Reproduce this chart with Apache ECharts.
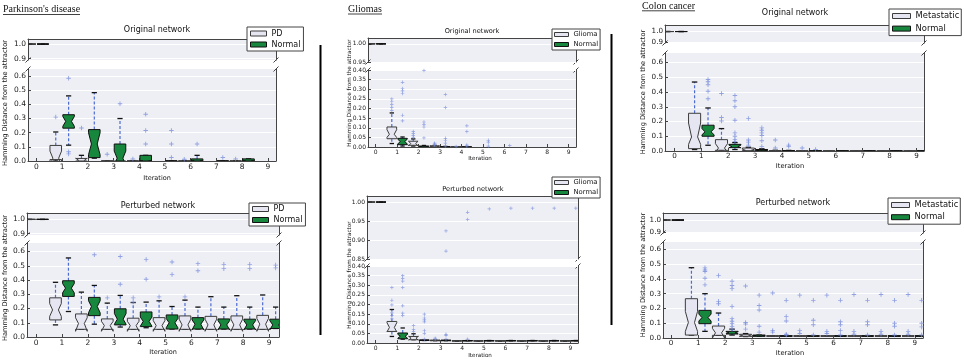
<!DOCTYPE html>
<html>
<head>
<meta charset="utf-8">
<script src="https://cdn.jsdelivr.net/npm/echarts@6/dist/echarts.min.js"></script>
<style>
html, body { margin: 0; padding: 0; background: #fff; }
#chart { width: 964px; height: 360px; }
</style>
</head>
<body>
<div id="chart"></div>
<script>
// x positions: iterations 0..9
const iterations = [0, 1, 2, 3, 4, 5, 6, 7, 8, 9]

// tick values of the broken y axes
const parkTopTicks = [0.9, 1.0]
const parkBottomTicks = [0, 0.1, 0.2, 0.3, 0.4, 0.5, 0.6]
const gliTopTicks = [0.95, 1.0]
const gliPertTopTicks = [0.85, 0.9, 0.95, 1.0]
const gliBottomTicks = [0, 0.05, 0.1, 0.15, 0.2, 0.25, 0.3, 0.35, 0.4]
const colTopTicks = [0.9, 1.0]
const colBottomTicks = [0, 0.1, 0.2, 0.3, 0.4, 0.5, 0.6]

// box per iteration: [lowWhisker, q1, notchLow, median, notchHigh, q3, highWhisker]
const parkOrigPD = [
  [1, 1, 1, 1, 1, 1, 1],
  [0, 0.01, -0.03, 0.02, 0.07, 0.11, 0.205],
  [0, 0, -0.01, 0.005, 0.02, 0.018, 0.04],
  [0, 0, 0, 0, 0, 0, 0],
  [0, 0, 0, 0, 0, 0, 0.003],
  null,
  [0, 0, 0, 0, 0, 0, 0.003],
  null,
  [0, 0, 0, 0, 0, 0, 0.003],
  null
]
const parkOrigNormal = [
  [1, 1, 1, 1, 1, 1, 1],
  [0.112, 0.232, 0.245, 0.28, 0.315, 0.327, 0.46],
  [0.02, 0.024, 0.045, 0.12, 0.2, 0.222, 0.483],
  [0, 0, -0.03, 0.02, 0.07, 0.12, 0.3],
  [0, 0, 0, 0, 0, 0.04, 0.04],
  [0, 0, 0, 0, 0, 0, 0],
  [0, 0, 0, 0, 0, 0.015, 0.04],
  [0, 0, 0, 0, 0, 0, 0],
  [0, 0, 0, 0, 0, 0.015, 0.015],
  null
]
const parkOrigPDOut = [[], [0.31], [0.233], [0.048], [0.015], [], [0.012], [], [0.015], []]
const parkOrigNormalOut = [[], [0.585, 0.065, 0.05], [], [0.405], [0.33, 0.215, 0.12], [0.215, 0.12, 0.025], [0.12], [0.025], [], []]

const parkPertPD = [
  [1, 1, 1, 1, 1, 1, 1],
  [0.085, 0.12, 0.145, 0.19, 0.235, 0.275, 0.384],
  [0.054, 0.054, 0.04, 0.095, 0.135, 0.162, 0.315],
  [0.054, 0.054, 0.04, 0.08, 0.11, 0.127, 0.238],
  [0.054, 0.054, 0.04, 0.08, 0.11, 0.132, 0.242],
  [0.054, 0.054, 0.04, 0.08, 0.115, 0.136, 0.254],
  [0.054, 0.054, 0.04, 0.085, 0.125, 0.148, 0.259],
  [0.054, 0.054, 0.04, 0.085, 0.125, 0.145, 0.283],
  [0.054, 0.054, 0.04, 0.085, 0.125, 0.148, 0.29],
  [0.054, 0.054, 0.04, 0.09, 0.13, 0.152, 0.295]
]
const parkPertNormal = [
  [1, 1, 1, 1, 1, 1, 1],
  [0.179, 0.285, 0.31, 0.343, 0.375, 0.395, 0.555],
  [0.09, 0.15, 0.17, 0.214, 0.255, 0.278, 0.362],
  [0.07, 0.085, 0.09, 0.125, 0.165, 0.198, 0.292],
  [0.065, 0.073, 0.075, 0.11, 0.14, 0.176, 0.245],
  [0.056, 0.056, 0.065, 0.1, 0.13, 0.155, 0.214],
  [0.056, 0.056, 0.05, 0.09, 0.12, 0.136, 0.21],
  [0.056, 0.056, 0.05, 0.085, 0.115, 0.127, 0.21],
  [0.056, 0.056, 0.05, 0.085, 0.115, 0.125, 0.21],
  [0.06, 0.06, 0.05, 0.085, 0.115, 0.125, 0.21]
]
const parkPertPDOut = [[], [], [], [0.275], [0.275, 0.245], [0.282], [0.282], [], [], []]
const parkPertNormalOut = [[], [], [0.578], [0.565, 0.37], [0.545, 0.405], [0.527, 0.438], [0.515, 0.465], [0.51, 0.48], [0.51, 0.48], [0.505, 0.485]]

const gliOrigGlioma = [
  [1, 1, 1, 1, 1, 1, 1],
  [0.018, 0.043, 0.05, 0.066, 0.09, 0.104, 0.177],
  [0.005, 0.009, 0.005, 0.018, 0.03, 0.03, 0.042],
  [0, 0.001, 0, 0.003, 0.006, 0.006, 0.008],
  [0, 0, 0, 0, 0, 0.002, 0.002],
  null, null, null, null, null
]
const gliOrigNormal = [
  [1, 1, 1, 1, 1, 1, 1],
  [0.005, 0.012, 0.015, 0.028, 0.042, 0.045, 0.052],
  [0, 0, 0, 0.002, 0.004, 0.005, 0.008],
  [0, 0, 0, 0, 0.002, 0.002, 0.003],
  [0, 0, 0, 0, 0, 0, 0.001],
  null, null, null, null, null
]
const gliOrigGliomaOut = [[], [0.25, 0.235, 0.22, 0.205, 0.19], [0.08, 0.07, 0.06, 0.05], [0.02, 0.015, 0.01], [0.003], [], [], [], [], []]
const gliOrigNormalOut = [[], [0.336, 0.304, 0.292, 0.278, 0.165, 0.136], [0.397, 0.13, 0.118, 0.104, 0.047], [0.273, 0.205, 0.045, 0.035, 0.02, 0.005], [0.11, 0.08, 0.01, 0.005], [0.035, 0.025, 0.005], [0.008], [], [], []]

const gliPertGlioma = [
  [1, 1, 1, 1, 1, 1, 1],
  [0.034, 0.06, 0.058, 0.081, 0.105, 0.112, 0.174],
  [0.017, 0.017, 0.015, 0.025, 0.035, 0.034, 0.048],
  [0.012, 0.012, 0.012, 0.013, 0.014, 0.015, 0.015],
  [0.01, 0.01, 0.01, 0.011, 0.012, 0.012, 0.012],
  [0.01, 0.01, 0.01, 0.011, 0.012, 0.012, 0.012],
  [0.01, 0.01, 0.01, 0.011, 0.012, 0.012, 0.012],
  [0.01, 0.01, 0.01, 0.011, 0.012, 0.012, 0.012],
  [0.01, 0.01, 0.01, 0.011, 0.012, 0.012, 0.012],
  [0.01, 0.01, 0.01, 0.011, 0.012, 0.012, 0.012]
]
const gliPertNormal = [
  [1, 1, 1, 1, 1, 1, 1],
  [0.02, 0.022, 0.025, 0.035, 0.045, 0.052, 0.078],
  [0.013, 0.013, 0.013, 0.014, 0.015, 0.016, 0.016],
  [0.012, 0.012, 0.012, 0.013, 0.014, 0.015, 0.015],
  [0.011, 0.011, 0.011, 0.012, 0.013, 0.013, 0.013],
  [0.011, 0.011, 0.011, 0.012, 0.013, 0.013, 0.013],
  [0.011, 0.011, 0.011, 0.012, 0.013, 0.013, 0.013],
  [0.011, 0.011, 0.011, 0.012, 0.013, 0.013, 0.013],
  [0.011, 0.011, 0.011, 0.012, 0.013, 0.013, 0.013],
  [0.011, 0.011, 0.011, 0.012, 0.013, 0.013, 0.013]
]
const gliPertGliomaOut = [[], [0.288, 0.222, 0.198, 0.157, 0.143, 0.125], [0.09, 0.07, 0.06], [0.025, 0.02], [], [], [], [], [], []]
const gliPertNormalOut = [[], [0.35, 0.336, 0.321, 0.288, 0.193, 0.155, 0.143], [0.15, 0.13, 0.12, 0.11, 0.065, 0.05, 0.02], [0.924, 0.871, 0.045, 0.04, 0.02], [0.973, 0.954, 0.02], [0.982], [0.984], [0.984], [0.984], [0.984]]

const colOrigMeta = [
  [1, 1, 1, 1, 1, 1, 1],
  [0.01, 0.016, 0.045, 0.095, 0.19, 0.256, 0.468],
  [0, 0.005, -0.01, 0.02, 0.05, 0.077, 0.152],
  [0, 0.002, 0, 0.005, 0.012, 0.02, 0.025],
  [0, 0, 0, 0.001, 0.002, 0.003, 0.005],
  [0, 0, 0, 0, 0.001, 0.001, 0.002],
  [0, 0, 0, 0, 0, 0.001, 0.001],
  [0, 0, 0, 0, 0, 0.001, 0.001],
  [0, 0, 0, 0, 0, 0.001, 0.001],
  [0, 0, 0, 0, 0, 0.001, 0.001]
]
const colOrigNormal = [
  [1, 1, 1, 1, 1, 1, 1],
  [0.039, 0.1, 0.11, 0.13, 0.152, 0.175, 0.292],
  [0.01, 0.023, 0.022, 0.03, 0.04, 0.045, 0.057],
  [0, 0.002, 0, 0.005, 0.01, 0.01, 0.015],
  [0, 0, 0, 0.001, 0.002, 0.002, 0.004],
  [0, 0, 0, 0, 0.001, 0.001, 0.001],
  [0, 0, 0, 0, 0, 0.001, 0.001],
  [0, 0, 0, 0, 0, 0.001, 0.001],
  [0, 0, 0, 0, 0, 0.001, 0.001],
  [0, 0, 0, 0, 0, 0.001, 0.001]
]
const colOrigMetaOut = [[], [], [0.39, 0.227, 0.204], [0.22, 0.075, 0.06, 0.04], [0.075, 0.02], [0.02], [], [], [], []]
const colOrigNormalOut = [[], [0.485, 0.47, 0.45, 0.405, 0.355], [0.377, 0.341, 0.3, 0.209, 0.123, 0.1, 0.077, 0.065], [0.157, 0.141, 0.123, 0.105, 0.07, 0.03], [0.04, 0.03], [0.01], [], [], [], []]

const colPertMeta = [
  [1, 1, 1, 1, 1, 1, 1],
  [0.02, 0.02, 0.045, 0.105, 0.18, 0.266, 0.476],
  [0.018, 0.018, 0, 0.035, 0.065, 0.081, 0.169],
  [0.01, 0.012, 0.01, 0.016, 0.022, 0.025, 0.03],
  [0.012, 0.012, 0.012, 0.013, 0.014, 0.015, 0.015],
  [0.012, 0.012, 0.012, 0.013, 0.014, 0.015, 0.015],
  [0.012, 0.012, 0.012, 0.013, 0.014, 0.015, 0.015],
  [0.012, 0.012, 0.012, 0.013, 0.014, 0.015, 0.015],
  [0.012, 0.012, 0.012, 0.013, 0.014, 0.015, 0.015],
  [0.012, 0.012, 0.012, 0.013, 0.014, 0.015, 0.015]
]
const colPertNormal = [
  [1, 1, 1, 1, 1, 1, 1],
  [0.045, 0.097, 0.115, 0.138, 0.162, 0.187, 0.3],
  [0.02, 0.027, 0.028, 0.035, 0.042, 0.045, 0.06],
  [0.012, 0.012, 0.012, 0.015, 0.018, 0.02, 0.02],
  [0.012, 0.012, 0.012, 0.013, 0.014, 0.015, 0.015],
  [0.012, 0.012, 0.012, 0.013, 0.014, 0.015, 0.015],
  [0.012, 0.012, 0.012, 0.013, 0.014, 0.015, 0.015],
  [0.012, 0.012, 0.012, 0.013, 0.014, 0.015, 0.015],
  [0.012, 0.012, 0.012, 0.013, 0.014, 0.015, 0.015],
  [0.012, 0.012, 0.012, 0.013, 0.014, 0.015, 0.015]
]
const colPertMetaOut = [[], [], [0.424, 0.248, 0.232], [0.352, 0.105, 0.095, 0.06], [0.305, 0.05, 0.04], [0.29, 0.05, 0.03], [0.29, 0.045, 0.03], [0.295, 0.045, 0.025], [0.295, 0.045, 0.025], [0.295, 0.045, 0.025]]
const colPertNormalOut = [[], [0.475, 0.46, 0.45, 0.405, 0.36], [0.384, 0.355, 0.334, 0.214, 0.131, 0.113, 0.097, 0.079, 0.06], [0.29, 0.22, 0.19, 0.08, 0.04], [0.255, 0.145, 0.115, 0.025, 0.02], [0.255, 0.12, 0.09, 0.02], [0.255, 0.11, 0.09, 0.05, 0.02], [0.255, 0.11, 0.09, 0.02], [0.255, 0.1, 0.08, 0.02], [0.255, 0.1, 0.075, 0.02]]

// styles
const BG = '#eeeff5'
const SPINE = '#444'
const TXT = '#222'
const WHISK = '#4c6cd3'
const FLIER = '#7a8edb'
const FILL_A = '#e6e6f3'
const EDGE_A = '#3c3c3c'
const FILL_B = '#16873c'
const EDGE_B = '#111'
const SANS = 'DejaVu Sans'
const SERIF = 'Liberation Serif'
const BOX_W = 0.45
const OFFSET = 0.25
const PLUS = 'path://M4,0H6V4H10V6H6V10H4V6H0V4H4Z'

// subplot layout (pixels) + which arrays go where
const subplots = [
  {
    nameA: 'PD', boxA: parkOrigPD, boxB: parkOrigNormal, outA: parkOrigPDOut, outB: parkOrigNormalOut,
    topTicks: parkTopTicks, botTicks: parkBottomTicks, dec: 1, title: 'Original network',
    left: 28, width: 248, xMin: -0.33, xMax: 9.32,
    top: { y: 39, h: 21, min: 0.89, max: 1.035 }, bot: { y: 69, h: 92, min: 0, max: 0.65 },
    titlePos: [157, 30], xlabPos: [157, 178], ylabPos: [5, 103],
    fs: { title: 8, tick: 7.5, xlab: 6.5, ylab: 6.7, legend: 8 }, flier: 4.5,
    legend: { left: 247, top: 27, iw: 16, ih: 5, lh: 8, gap: 3, pad: [2.5, 3, 2.5, 3] }
  },
  {
    nameA: 'PD', boxA: parkPertPD, boxB: parkPertNormal, outA: parkPertPDOut, outB: parkPertNormalOut,
    topTicks: parkTopTicks, botTicks: parkBottomTicks, dec: 1, title: 'Perturbed network',
    left: 27, width: 252, xMin: -0.35, xMax: 9.38,
    top: { y: 213, h: 22, min: 0.89, max: 1.045 }, bot: { y: 243, h: 94, min: 0, max: 0.66 },
    titlePos: [158, 206], xlabPos: [163, 352], ylabPos: [5, 278],
    fs: { title: 8, tick: 7.5, xlab: 6.5, ylab: 6.7, legend: 8 }, flier: 4.5,
    legend: { left: 249, top: 203, iw: 16, ih: 5, lh: 8, gap: 3, pad: [2, 3, 2, 3] }
  },
  {
    nameA: 'Glioma', boxA: gliOrigGlioma, boxB: gliOrigNormal, outA: gliOrigGliomaOut, outB: gliOrigNormalOut,
    topTicks: gliTopTicks, botTicks: gliBottomTicks, dec: 2, title: 'Original network',
    left: 368, width: 208, xMin: -0.36, xMax: 9.34,
    top: { y: 38, h: 24, min: 0.95, max: 1.016 }, bot: { y: 70, h: 77, min: 0, max: 0.4 },
    titlePos: [472, 31], xlabPos: [480, 159], ylabPos: [350, 93],
    fs: { title: 6.6, tick: 6, xlab: 5.6, ylab: 5.7, legend: 6.8 }, flier: 3.5,
    legend: { left: 552, top: 29, iw: 14, ih: 4, lh: 7, gap: 3, pad: [2, 2, 2, 2] }
  },
  {
    nameA: 'Glioma', boxA: gliPertGlioma, boxB: gliPertNormal, outA: gliPertGliomaOut, outB: gliPertNormalOut,
    topTicks: gliPertTopTicks, botTicks: gliBottomTicks, dec: 2, title: 'Perturbed network',
    left: 367, width: 211, xMin: -0.4, xMax: 9.35,
    top: { y: 196, h: 63, min: 0.85, max: 1.016 }, bot: { y: 266, h: 77, min: 0, max: 0.4 },
    titlePos: [473, 189], xlabPos: [480, 356], ylabPos: [350, 275],
    fs: { title: 6.6, tick: 6, xlab: 5.6, ylab: 5.7, legend: 6.8 }, flier: 3.5,
    legend: { left: 552, top: 177, iw: 14, ih: 4, lh: 7, gap: 3, pad: [2, 2, 2, 2] }
  },
  {
    nameA: 'Metastatic', boxA: colOrigMeta, boxB: colOrigNormal, outA: colOrigMetaOut, outB: colOrigNormalOut,
    topTicks: colTopTicks, botTicks: colBottomTicks, dec: 1, title: 'Original network',
    left: 665, width: 259, xMin: -0.35, xMax: 9.28,
    top: { y: 25, h: 18, min: 0.895, max: 1.06 }, bot: { y: 53, h: 98, min: 0, max: 0.665 },
    titlePos: [795, 13], xlabPos: [790, 166], ylabPos: [643, 92],
    fs: { title: 8, tick: 7.2, xlab: 6.7, ylab: 6.6, legend: 8.4 }, flier: 4.5,
    legend: { left: 889, top: 9, iw: 18, ih: 5, lh: 9, gap: 3.6, pad: [2.5, 2, 2.5, 3] }
  },
  {
    nameA: 'Metastatic', boxA: colPertMeta, boxB: colPertNormal, outA: colPertMetaOut, outB: colPertNormalOut,
    topTicks: colTopTicks, botTicks: colBottomTicks, dec: 1, title: 'Perturbed network',
    left: 663, width: 260, xMin: -0.3, xMax: 9.3,
    top: { y: 213, h: 20, min: 0.89, max: 1.06 }, bot: { y: 242, h: 96, min: 0, max: 0.65 },
    titlePos: [793, 203], xlabPos: [790, 353], ylabPos: [643, 275],
    fs: { title: 8, tick: 7.2, xlab: 6.7, ylab: 6.6, legend: 8.4 }, flier: 4.5,
    legend: { left: 888, top: 198, iw: 18, ih: 5, lh: 9, gap: 3.2, pad: [2.5, 2, 2.5, 3] }
  }
]

const panelTitles = [
  { text: "Parkinson's disease", x: 3, y: 9.5, w: 77, uy: 14.5 },
  { text: 'Gliomas', x: 348, y: 9, w: 34, uy: 14 },
  { text: 'Colon cancer', x: 642, y: 6, w: 53, uy: 10.8 }
]
const dividers = [
  { x: 320.5, y1: 45, y2: 335 },
  { x: 611.5, y1: 34, y2: 325 }
]

// notched box (matplotlib-style path) + dashed whiskers + caps
function boxRenderer(fill, edge) {
  return function (params, api) {
    const x = api.value(0)
    const py = (k) => api.coord([x, api.value(k)])[1]
    const cx = api.coord([x, 0])[0]
    const hw = (api.coord([x + BOX_W / 2, 0])[0] - api.coord([x - BOX_W / 2, 0])[0]) / 2
    const L = cx - hw, R = cx + hw, iL = cx - hw / 2, iR = cx + hw / 2, cw = hw * 0.45
    const lo = py(1), q1 = py(2), nLo = py(3), med = py(4), nHi = py(5), q3 = py(6), hi = py(7)
    const wStyle = { stroke: WHISK, lineWidth: 1.2, lineDash: [3, 2] }
    const cStyle = { stroke: '#111', lineWidth: 1.3 }
    return {
      type: 'group',
      children: [
        { type: 'line', shape: { x1: cx, y1: q3, x2: cx, y2: hi }, style: wStyle },
        { type: 'line', shape: { x1: cx, y1: q1, x2: cx, y2: lo }, style: wStyle },
        { type: 'line', shape: { x1: cx - cw, y1: hi, x2: cx + cw, y2: hi }, style: cStyle },
        { type: 'line', shape: { x1: cx - cw, y1: lo, x2: cx + cw, y2: lo }, style: cStyle },
        {
          type: 'polygon',
          shape: { points: [[L, q1], [R, q1], [R, nLo], [iR, med], [R, nHi], [R, q3], [L, q3], [L, nHi], [iL, med], [L, nLo]] },
          style: { fill: fill, stroke: edge, lineWidth: 1 }
        }
      ]
    }
  }
}

function boxData(boxes, shift) {
  const out = []
  boxes.forEach((b, i) => { if (b) out.push([iterations[i] + shift].concat(b)) })
  return out
}
function flierData(list, shift) {
  const out = []
  list.forEach((vals, i) => vals.forEach((v) => out.push([iterations[i] + shift, v])))
  return out
}

const grids = [], xAxes = [], yAxes = [], series = [], legends = [], graphics = []

subplots.forEach((sp) => {
  ;['top', 'bot'].forEach((part) => {
    const g = sp[part]
    const gi = grids.length
    const ticks = part === 'top' ? sp.topTicks : sp.botTicks
    grids.push({ left: sp.left, top: g.y, width: sp.width, height: g.h, show: true, backgroundColor: BG, borderWidth: 0, outerBoundsMode: 'none' })
    xAxes.push({
      gridIndex: gi, type: 'value', min: sp.xMin, max: sp.xMax,
      position: part === 'top' ? 'top' : 'bottom',
      axisLine: { show: true, onZero: false, lineStyle: { color: SPINE, width: 1 } },
      axisTick: { show: part === 'bot', inside: true, length: 3, customValues: iterations, lineStyle: { color: SPINE } },
      axisLabel: { show: part === 'bot', customValues: iterations, fontSize: sp.fs.tick, fontFamily: SANS, color: TXT, margin: 2 },
      splitLine: { show: false }
    })
    const yi = yAxes.length
    yAxes.push({
      gridIndex: gi, type: 'value', min: g.min, max: g.max, position: 'left',
      axisLine: { show: true, onZero: false, lineStyle: { color: SPINE, width: 1 } },
      axisTick: { show: true, inside: true, length: 3, customValues: ticks, lineStyle: { color: SPINE } },
      axisLabel: { customValues: ticks, fontSize: sp.fs.tick, fontFamily: SANS, color: TXT, margin: 2, formatter: (v) => v.toFixed(sp.dec) },
      splitLine: { show: true, lineStyle: { color: '#ffffff', width: 1 } }
    })
    yAxes.push({
      gridIndex: gi, type: 'value', min: g.min, max: g.max, position: 'right',
      axisLine: { show: true, onZero: false, lineStyle: { color: SPINE, width: 1 } },
      axisTick: { show: false }, axisLabel: { show: false }, splitLine: { show: false }
    })
    series.push({
      name: sp.nameA, type: 'custom', xAxisIndex: gi, yAxisIndex: yi, clip: true,
      renderItem: boxRenderer(FILL_A, EDGE_A), data: boxData(sp.boxA, -OFFSET)
    })
    series.push({
      name: 'Normal', type: 'custom', xAxisIndex: gi, yAxisIndex: yi, clip: true,
      renderItem: boxRenderer(FILL_B, EDGE_B), data: boxData(sp.boxB, OFFSET)
    })
    series.push({
      name: 'outliers', type: 'scatter', xAxisIndex: gi, yAxisIndex: yi, clip: true,
      symbol: PLUS, symbolSize: sp.flier, itemStyle: { color: FLIER },
      data: flierData(sp.outA, -OFFSET).concat(flierData(sp.outB, OFFSET))
    })

    // broken-axis marks
    const edgeY = part === 'top' ? g.y + g.h : g.y
    ;[sp.left, sp.left + sp.width].forEach((ex) => {
      graphics.push({ type: 'line', shape: { x1: ex - 2.5, y1: edgeY + 2.5, x2: ex + 2.5, y2: edgeY - 2.5 }, style: { stroke: SPINE, lineWidth: 1 } })
    })
  })

  const lg = sp.legend
  legends.push({
    left: lg.left, top: lg.top, orient: 'vertical', selectedMode: false,
    backgroundColor: '#fff', borderColor: SPINE, borderWidth: 1, borderRadius: 0,
    padding: lg.pad, itemGap: lg.gap, itemWidth: lg.iw, itemHeight: lg.ih, icon: 'rect',
    textStyle: { fontSize: sp.fs.legend, fontFamily: SANS, color: '#111', lineHeight: lg.lh },
    data: [
      { name: sp.nameA, itemStyle: { color: FILL_A, borderColor: EDGE_A, borderWidth: 1 } },
      { name: 'Normal', itemStyle: { color: FILL_B, borderColor: EDGE_B, borderWidth: 1 } }
    ]
  })

  graphics.push({ type: 'text', x: sp.titlePos[0], y: sp.titlePos[1], style: { text: sp.title, fontSize: sp.fs.title, fontFamily: SANS, fill: '#111', align: 'center', verticalAlign: 'middle' } })
  graphics.push({ type: 'text', x: sp.xlabPos[0], y: sp.xlabPos[1], style: { text: 'Iteration', fontSize: sp.fs.xlab, fontFamily: SANS, fill: '#111', align: 'center', verticalAlign: 'middle' } })
  graphics.push({ type: 'text', x: sp.ylabPos[0], y: sp.ylabPos[1], rotation: Math.PI / 2, style: { text: 'Hamming Distance from the attractor', fontSize: sp.fs.ylab, fontFamily: SANS, fill: '#111', align: 'center', verticalAlign: 'middle' } })
})

panelTitles.forEach((t) => {
  graphics.push({ type: 'text', x: t.x, y: t.y, style: { text: t.text, fontSize: 10, fontFamily: SERIF, fill: '#111', align: 'left', verticalAlign: 'middle' } })
  graphics.push({ type: 'line', shape: { x1: t.x, y1: t.uy, x2: t.x + t.w, y2: t.uy }, style: { stroke: '#111', lineWidth: 0.8 } })
})
dividers.forEach((d) => {
  graphics.push({ type: 'line', shape: { x1: d.x, y1: d.y1, x2: d.x, y2: d.y2 }, style: { stroke: '#000', lineWidth: 2 } })
})

const chart = echarts.init(document.getElementById('chart'))
chart.setOption({
  animation: false,
  backgroundColor: '#fff',
  grid: grids,
  xAxis: xAxes,
  yAxis: yAxes,
  legend: legends,
  series: series,
  graphic: graphics
})
</script>
</body>
</html>
